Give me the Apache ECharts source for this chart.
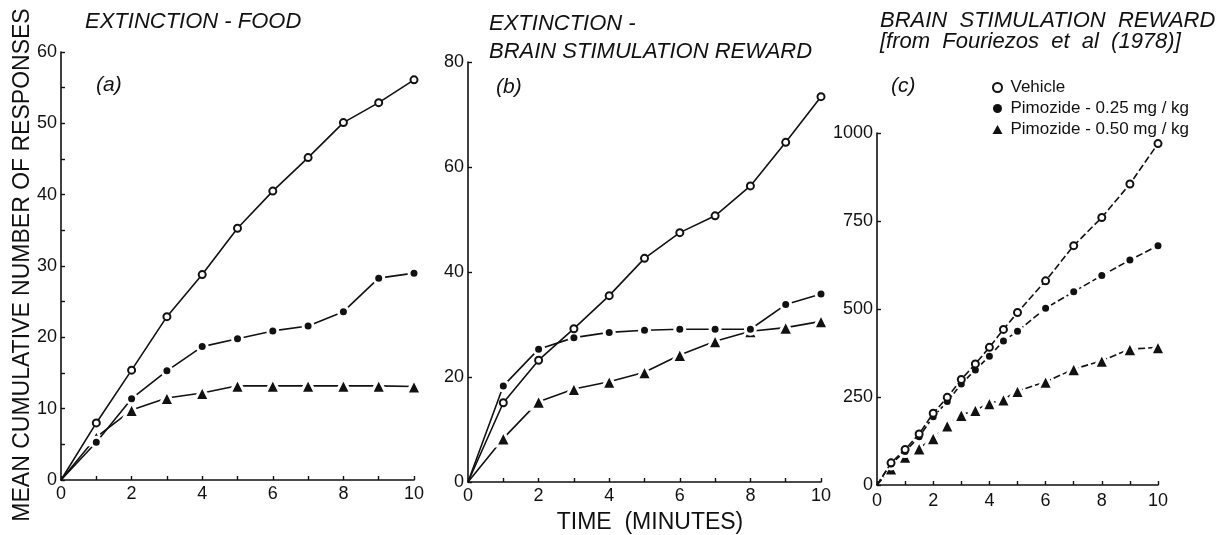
<!DOCTYPE html>
<html>
<head>
<meta charset="utf-8">
<script src="https://cdn.jsdelivr.net/npm/echarts@6/dist/echarts.min.js"></script>
<style>
  body { margin: 0; background: #fff; }
  #chart { width: 1223px; height: 535px; }
</style>
</head>
<body>
<div id="chart"></div>
<script>
// time points (minutes)
var minutes = [0, 1, 2, 3, 4, 5, 6, 7, 8, 9, 10];
var bsrMinutes = [0, 0.5, 1, 1.5, 2, 2.5, 3, 3.5, 4, 4.5, 5, 6, 7, 8, 9, 10];

var seriesNames = ['Vehicle', 'Pimozide - 0.25 mg / kg', 'Pimozide - 0.50 mg / kg'];

// (a) extinction - food
var foodVehicle = [0, 8.0, 15.4, 22.9, 28.8, 35.3, 40.5, 45.2, 50.1, 52.9, 56.1];
var foodPim025  = [0, 5.3, 11.4, 15.3, 18.7, 19.8, 20.9, 21.6, 23.6, 28.3, 29.0];
var foodPim050  = [0, 6.0, 9.8, 11.5, 12.2, 13.2, 13.2, 13.2, 13.2, 13.2, 13.1];

// (b) extinction - brain stimulation reward
var extVehicle = [0, 15.1, 23.2, 29.2, 35.5, 42.6, 47.5, 50.7, 56.4, 64.7, 73.4];
var extPim025  = [0, 18.3, 25.3, 27.5, 28.5, 28.9, 29.1, 29.1, 29.1, 33.8, 35.8];
var extPim050  = [0, 8.3, 15.3, 17.7, 19.1, 20.9, 24.2, 26.8, 28.7, 29.4, 30.6];

// (c) brain stimulation reward (Fouriezos et al 1978)
var bsrVehicle = [0, 63, 101, 145, 204, 249, 300, 344, 391, 442, 490, 580, 680, 760, 855, 970];
var bsrPim025  = [0, 60, 95, 137, 194, 237, 287, 327, 366, 409, 437, 502, 549, 595, 639, 680];
var bsrPim050  = [0, 47, 80, 104, 133, 169, 199, 213, 232, 243, 267, 293, 329, 353, 386, 391];

var ticksA = { max: 60, interval: 10 };
var ticksB = { max: 80, interval: 20 };
var ticksC = { max: 1000, interval: 250 };

var FONT = 'Liberation Sans';
var INK = '#111';

function pairs(xs, ys) {
  return xs.map(function (x, i) { return [x, ys[i]]; });
}

function xAxisFor(gridIndex, margin) {
  return {
    type: 'value', gridIndex: gridIndex, min: 0, max: 10, interval: 2,
    axisLine: { lineStyle: { color: INK, width: 1.6 } },
    axisTick: { inside: true, length: 4, lineStyle: { color: INK, width: 1.4 } },
    minorTick: { show: true, splitNumber: 2, length: 4, lineStyle: { color: INK, width: 1.4 } },
    splitLine: { show: false },
    axisLabel: { color: INK, fontFamily: FONT, fontSize: 18, margin: margin, hideOverlap: false }
  };
}

function yAxisFor(gridIndex, t, minor) {
  return {
    type: 'value', gridIndex: gridIndex, min: 0, max: t.max, interval: t.interval,
    axisLine: { show: true, lineStyle: { color: INK, width: 1.6 } },
    axisTick: { show: true, inside: true, length: 4, lineStyle: { color: INK, width: 1.4 } },
    minorTick: { show: minor, splitNumber: 2, length: 4, lineStyle: { color: INK, width: 1.4 } },
    splitLine: { show: false },
    axisLabel: {
      color: INK, fontFamily: FONT, fontSize: 18, margin: 4, hideOverlap: false,
      formatter: function (v) { return String(v); }
    }
  };
}

function makeSeries(idx, xs, ys, dash, gridIndex) {
  var kind = [
    { symbol: 'emptyCircle', size: 7, item: { color: INK, borderWidth: 1.3 } },
    { symbol: 'circle', size: 10, item: { color: INK, borderColor: '#fff', borderWidth: 3 } },
    { symbol: 'triangle', size: 15, item: { color: INK, borderColor: '#fff', borderWidth: 3 } }
  ][idx];
  return {
    name: seriesNames[idx],
    type: 'line',
    xAxisIndex: gridIndex,
    yAxisIndex: gridIndex,
    data: pairs(xs, ys),
    // no marker at the origin, the curves just start there
    symbol: function (value, params) { return params.dataIndex === 0 ? 'none' : kind.symbol; },
    symbolSize: kind.size,
    showAllSymbol: true,
    itemStyle: kind.item,
    lineStyle: { color: INK, width: 1.6, type: dash },
    z: 3 - idx,
    silent: true
  };
}

var chart = echarts.init(document.getElementById('chart'));

var titleStyle = { fontFamily: FONT, fontStyle: 'italic', fontSize: 22, fill: INK };
function label(text, x, y, extra) {
  var style = Object.assign({ text: text }, titleStyle, extra || {});
  return { type: 'text', x: x, y: y, style: style, silent: true };
}

var option = {
  backgroundColor: '#fff',
  animation: false,
  grid: [
    { left: 61, top: 52, width: 353, height: 428 },
    { left: 468, top: 62, width: 353, height: 420 },
    { left: 877, top: 133, width: 281, height: 352 }
  ],
  xAxis: [xAxisFor(0, 5), xAxisFor(1, 5), xAxisFor(2, 7)],
  yAxis: [yAxisFor(0, ticksA, true), yAxisFor(1, ticksB, false), yAxisFor(2, ticksC, false)],
  legend: {
    orient: 'vertical',
    left: 987,
    top: 74,
    itemGap: 4,
    itemWidth: 10,
    itemHeight: 9,
    textStyle: { color: INK, fontFamily: FONT, fontSize: 17, padding: [0, 0, 0, 3] },
    data: [
      { name: seriesNames[0], icon: 'emptyCircle', itemStyle: { color: INK, borderColor: INK, borderWidth: 1.2 } },
      { name: seriesNames[1], icon: 'circle', itemStyle: { color: INK, borderWidth: 0 } },
      { name: seriesNames[2], icon: 'triangle', itemStyle: { color: INK, borderWidth: 0 } }
    ],
    selectedMode: false
  },
  series: [
    makeSeries(0, minutes, foodVehicle, 'solid', 0),
    makeSeries(1, minutes, foodPim025, 'solid', 0),
    makeSeries(2, minutes, foodPim050, 'solid', 0),
    makeSeries(0, minutes, extVehicle, 'solid', 1),
    makeSeries(1, minutes, extPim025, 'solid', 1),
    makeSeries(2, minutes, extPim050, 'solid', 1),
    makeSeries(0, bsrMinutes, bsrVehicle, [7, 3], 2),
    makeSeries(1, bsrMinutes, bsrPim025, [7, 3], 2),
    makeSeries(2, bsrMinutes, bsrPim050, [7, 3], 2)
  ],
  graphic: [
    label('EXTINCTION - FOOD', 85, 11),
    label('EXTINCTION -', 489, 13),
    label('BRAIN STIMULATION REWARD', 489, 41),
    label('BRAIN  STIMULATION  REWARD', 880, 10),
    label('[from  Fouriezos  et  al  (1978)]', 880, 31),
    label('(a)', 96, 75, { fontSize: 21 }),
    label('(b)', 496, 77, { fontSize: 21 }),
    label('(c)', 891, 76, { fontSize: 21 }),
    {
      type: 'text', x: 23, y: 265, rotation: Math.PI / 2, silent: true,
      style: { text: 'MEAN CUMULATIVE NUMBER OF RESPONSES', fontFamily: FONT, fontSize: 23,
               fill: INK, align: 'center', verticalAlign: 'middle' }
    },
    {
      type: 'text', x: 650, y: 523, silent: true,
      style: { text: 'TIME  (MINUTES)', fontFamily: FONT, fontSize: 23,
               fill: INK, align: 'center', verticalAlign: 'middle' }
    }
  ]
};

chart.setOption(option);
</script>
</body>
</html>
